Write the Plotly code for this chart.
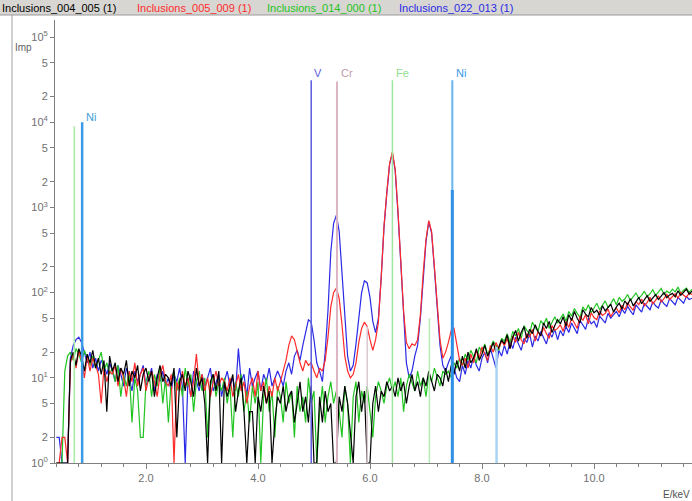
import plotly.graph_objects as go

# ---------------- data (counts per 0.05 keV channel) ----------------
E_START = 0.40   # keV of first channel
E_STEP = 0.05    # keV per channel

series_names = ["Inclusions_004_005 (1)", "Inclusions_005_009 (1)",
                "Inclusions_014_000 (1)", "Inclusions_022_013 (1)"]

black_counts = [
    1, 1, 1, 1, 1, 16, 20, 14, 22, 18, 12, 19, 15, 21, 13, 17, 11, 16, 4, 18,
    12, 15, 9, 13, 11, 16, 8, 12, 10, 14, 7, 11, 13, 9, 12, 6, 10, 14, 9, 11,
    10, 8, 13, 2, 9, 11, 7, 12, 9, 6, 13, 8, 10, 5, 1, 9, 11, 7, 12, 1,
    9, 6, 8, 11, 4, 7, 10, 4, 1, 4, 4, 1, 6, 4, 8, 5, 7, 1, 3, 6,
    5, 8, 4, 6, 7, 3, 5, 9, 4, 6, 3, 8, 1, 1, 6, 3, 7, 4, 5, 1,
    1, 6, 4, 8, 5, 2, 1, 6, 9, 4, 7, 1, 1, 5, 8, 4, 7, 6, 9, 7,
    8, 6, 10, 7, 9, 5, 8, 11, 7, 9, 6, 10, 8, 12, 9, 7, 11, 10, 8, 13,
    9, 14, 11, 16, 12, 18, 13, 20, 15, 17, 22, 16, 19, 24, 18, 21, 26, 20, 23, 28,
    25, 32, 22, 30, 36, 27, 34, 40, 29, 37, 33, 42, 35, 31, 44, 38, 46, 34, 41, 48,
    43, 52, 40, 55, 47, 60, 50, 44, 63, 56, 52, 67, 58, 62, 54, 70, 61, 66, 73, 59,
    68, 75, 64, 80, 72, 85, 70, 78, 88, 74, 82, 92, 79, 86, 95, 83, 90, 100, 87, 94,
    98, 89, 105, 93, 101, 110, 96, 104,
]

red_counts = [
    1, 1, 2, 2, 1, 15, 19, 13, 21, 16, 10, 18, 12, 17, 14, 11, 5, 13, 9, 12,
    11, 14, 8, 13, 10, 6, 12, 9, 15, 8, 11, 13, 7, 10, 12, 9, 6, 11, 14, 9,
    8, 11, 1, 9, 7, 12, 8, 10, 6, 9, 19, 8, 11, 7, 10, 6, 9, 12, 8, 10,
    9, 7, 10, 6, 8, 11, 7, 9, 5, 8, 10, 6, 12, 7, 9, 5, 8, 6, 10, 7,
    9, 12, 16, 24, 31, 28, 20, 15, 12, 16, 14, 15, 12, 10, 13, 12, 16, 30, 68, 100,
    113, 85, 42, 18, 12, 10, 11, 15, 26, 38, 45, 40, 28, 21, 28, 45, 150, 600, 1500, 3300,
    4500, 2800, 900, 230, 60, 26, 22, 25, 24, 28, 55, 170, 420, 700, 520, 200, 65, 28, 17, 20,
    26, 36, 38, 24, 16, 14, 17, 13, 19, 15, 21, 17, 23, 19, 16, 24, 20, 26, 22, 27,
    24, 29, 22, 31, 26, 34, 28, 25, 33, 30, 37, 27, 35, 31, 39, 33, 29, 41, 36, 38,
    42, 35, 46, 39, 50, 44, 38, 53, 47, 55, 43, 58, 51, 48, 61, 54, 57, 64, 52, 60,
    66, 58, 71, 63, 75, 68, 62, 79, 72, 84, 70, 77, 88, 74, 81, 92, 78, 85, 95, 83,
    90, 97, 86, 101, 93, 88, 99, 95,
]

green_counts = [
    1, 1, 1, 12, 18, 20, 16, 22, 19, 15, 21, 17, 14, 18, 13, 16, 20, 12, 15, 11,
    13, 9, 14, 6, 11, 8, 12, 3, 10, 7, 2, 2, 9, 12, 6, 11, 8, 13, 5, 10,
    3, 9, 12, 7, 10, 6, 13, 8, 11, 4, 9, 12, 7, 10, 2, 8, 11, 6, 9, 7,
    10, 5, 8, 2, 9, 6, 11, 4, 7, 3, 8, 5, 9, 1, 6, 10, 4, 7, 2, 8,
    6, 3, 9, 5, 7, 2, 8, 4, 6, 3, 10, 5, 7, 1, 4, 8, 3, 6, 9, 5,
    7, 4, 2, 8, 5, 1, 6, 9, 3, 7, 5, 8, 4, 2, 6, 9, 7, 5, 8, 10,
    7, 9, 6, 10, 4, 8, 11, 9, 7, 12, 8, 10, 6, 11, 9, 13, 10, 8, 12, 11,
    12, 10, 15, 13, 17, 14, 19, 16, 21, 18, 15, 23, 20, 25, 19, 22, 27, 24, 21, 29,
    27, 33, 26, 35, 31, 38, 29, 41, 36, 33, 45, 39, 35, 47, 42, 50, 38, 45, 52, 44,
    49, 56, 46, 60, 53, 65, 57, 51, 68, 61, 72, 58, 66, 75, 63, 70, 80, 67, 74, 85,
    72, 88, 79, 84, 95, 81, 90, 99, 86, 93, 104, 89, 97, 108, 92, 101, 112, 95, 104, 99,
    110, 102, 116, 98, 107, 113, 101, 109,
]

blue_counts = [
    2, 2, 1, 1, 1, 17, 24, 28, 30, 26, 19, 15, 20, 13, 17, 12, 16, 14, 11, 15,
    12, 9, 14, 11, 8, 13, 10, 7, 12, 9, 11, 14, 8, 10, 13, 7, 11, 9, 12, 8,
    10, 7, 11, 9, 13, 8, 1, 10, 6, 12, 9, 7, 11, 8, 10, 13, 7, 9, 11, 6,
    9, 12, 8, 10, 7, 22, 9, 11, 6, 13, 8, 10, 12, 7, 11, 9, 13, 8, 10, 12,
    10, 8, 12, 15, 11, 18, 21, 16, 24, 34, 48, 45, 28, 15, 12, 9, 20, 62, 300, 650,
    810, 520, 160, 52, 18, 12, 14, 25, 48, 100, 138, 130, 88, 46, 34, 50, 150, 580, 1450, 3200,
    4300, 2700, 850, 210, 45, 15, 10, 12, 18, 24, 50, 165, 400, 680, 500, 190, 60, 24, 14, 12,
    15, 18, 13, 10, 9, 14, 11, 16, 13, 18, 14, 12, 17, 20, 15, 22, 17, 13, 21, 18,
    24, 19, 27, 22, 30, 25, 21, 29, 26, 33, 23, 31, 27, 35, 29, 25, 34, 30, 37, 28,
    36, 31, 40, 34, 44, 38, 33, 47, 41, 37, 50, 43, 46, 39, 53, 48, 44, 57, 50, 55,
    60, 52, 64, 57, 69, 61, 55, 72, 65, 59, 75, 68, 63, 78, 70, 66, 82, 74, 69, 85,
    77, 72, 88, 80, 75, 90, 83, 86,
]

# element marker lines (energy in keV, top in counts)
marker_energy = [0.72, 0.86, 4.95, 5.41, 5.95, 6.40, 7.06, 7.47, 7.47, 8.26]
marker_top = [9000, 10000, 31000, 30000, 40, 31000, 50, 31000, 1600, 23]

# element labels
label_text = ["Ni", "V", "Cr", "Fe", "Ni"]
label_energy = [0.86, 4.95, 5.41, 6.40, 7.47]

# axis ticks
x_tick_vals = [2, 4, 6, 8, 10]
x_tick_text = ["2.0", "4.0", "6.0", "8.0", "10.0"]
y_tick_vals = [1, 2, 5, 10, 20, 50, 100, 200, 500, 1000, 2000, 5000,
               10000, 20000, 50000, 100000]
y_tick_text = ["10<sup>0</sup>", "2", "5", "10<sup>1</sup>", "2", "5",
               "10<sup>2</sup>", "2", "5", "10<sup>3</sup>", "2", "5",
               "10<sup>4</sup>", "2", "5", "10<sup>5</sup>"]

# ---------------- styles ----------------
series_colors = {"black": "#000000", "red": "#ff2a2a", "green": "#22c422", "blue": "#2a2ae6"}
header_colors = ["#000000", "#ff2a2a", "#22c422", "#2a2ae6"]
marker_colors = ["#a8eaa8", "#3a9ae8", "#5a5ae0", "#dcb4c4", "#d8c8d0",
                 "#9ee69e", "#b4ecb4", "#66b4f0", "#2e90e6", "#a8d4f4"]
marker_widths = [1.5, 2.5, 1.5, 2, 1.5, 1.5, 1.5, 2, 3, 2.5]
label_colors = ["#40a0d8", "#5a5ae0", "#c09aa8", "#8ede8e", "#3a9ae8"]
label_py = [117, 73, 73, 73, 73]
label_shift = [2, 1, 2, 2, 2]

W, H = 692, 501
L, R, T, B = 55, 0, 20, 38
PW, PH = W - L - R, H - T - B


def px(xpix):
    return (xpix - L) / PW


def py(ypix):
    return (H - B - ypix) / PH


energy = [round(E_START + E_STEP * i, 2) for i in range(len(black_counts))]

fig = go.Figure()

order = [("blue", blue_counts), ("green", green_counts), ("red", red_counts), ("black", black_counts)]
for cname, vals in order:
    fig.add_trace(go.Scatter(x=energy, y=vals, mode="lines",
                             line=dict(color=series_colors[cname], width=1.2),
                             showlegend=False, hoverinfo="skip"))

for e, top, c, w in zip(marker_energy, marker_top, marker_colors, marker_widths):
    fig.add_trace(go.Scatter(x=[e, e], y=[1, top], mode="lines",
                             line=dict(color=c, width=w),
                             showlegend=False, hoverinfo="skip"))

annotations = []
for t, e, c, ypix, sh in zip(label_text, label_energy, label_colors, label_py, label_shift):
    annotations.append(dict(x=e, xref="x", y=py(ypix), yref="paper", text=t,
                            showarrow=False, xanchor="left", yanchor="middle", xshift=sh,
                            font=dict(family="Liberation Sans", size=11, color=c)))

# header legend texts
header_x = [0, 135, 265, 397]
for name, c, hx in zip(series_names, header_colors, header_x):
    annotations.append(dict(x=px(hx), xref="paper", y=py(8), yref="paper", text=name,
                            showarrow=False, xanchor="left", yanchor="middle",
                            font=dict(family="Liberation Sans", size=11, color=c)))

annotations.append(dict(x=px(13), xref="paper", y=py(48), yref="paper", text="Imp",
                        showarrow=False, xanchor="left", yanchor="middle",
                        font=dict(family="Liberation Sans", size=10, color="#606060")))
annotations.append(dict(x=px(661), xref="paper", y=py(494), yref="paper", text="E/keV",
                        showarrow=False, xanchor="left", yanchor="middle",
                        font=dict(family="Liberation Sans", size=10, color="#505050")))

shapes = [
    dict(type="rect", xref="paper", yref="paper", x0=px(0), x1=px(W), y0=py(15), y1=py(0),
         fillcolor="#d8d6d2", line=dict(width=0), layer="below"),
    dict(type="line", xref="paper", yref="paper", x0=px(0), x1=px(W), y0=py(15), y1=py(15),
         line=dict(color="#9a9a9a", width=1)),
    dict(type="line", xref="paper", yref="paper", x0=px(12), x1=px(12), y0=py(15), y1=py(H),
         line=dict(color="#a0a0a0", width=1)),
]

fig.update_layout(
    width=W, height=H,
    margin=dict(l=L, r=R, t=T, b=B, pad=0),
    paper_bgcolor="white", plot_bgcolor="white",
    annotations=annotations, shapes=shapes,
    xaxis=dict(range=[0.375, 11.75], tickvals=x_tick_vals, ticktext=x_tick_text,
               showgrid=False, zeroline=False, showline=True, linecolor="#808080", linewidth=1,
               ticks="outside", ticklen=5, tickcolor="#808080",
               minor=dict(dtick=0.4, tick0=0, ticks="outside", ticklen=3, tickcolor="#808080"),
               tickfont=dict(family="Liberation Sans", size=11, color="#707070")),
    yaxis=dict(type="log", range=[0, 5.2], tickvals=y_tick_vals, ticktext=y_tick_text,
               showgrid=False, zeroline=False, showline=True, linecolor="#808080", linewidth=1,
               ticks="outside", ticklen=4, tickcolor="#808080",
               tickfont=dict(family="Liberation Sans", size=11, color="#707070")),
)

fig.write_html("out.html")
